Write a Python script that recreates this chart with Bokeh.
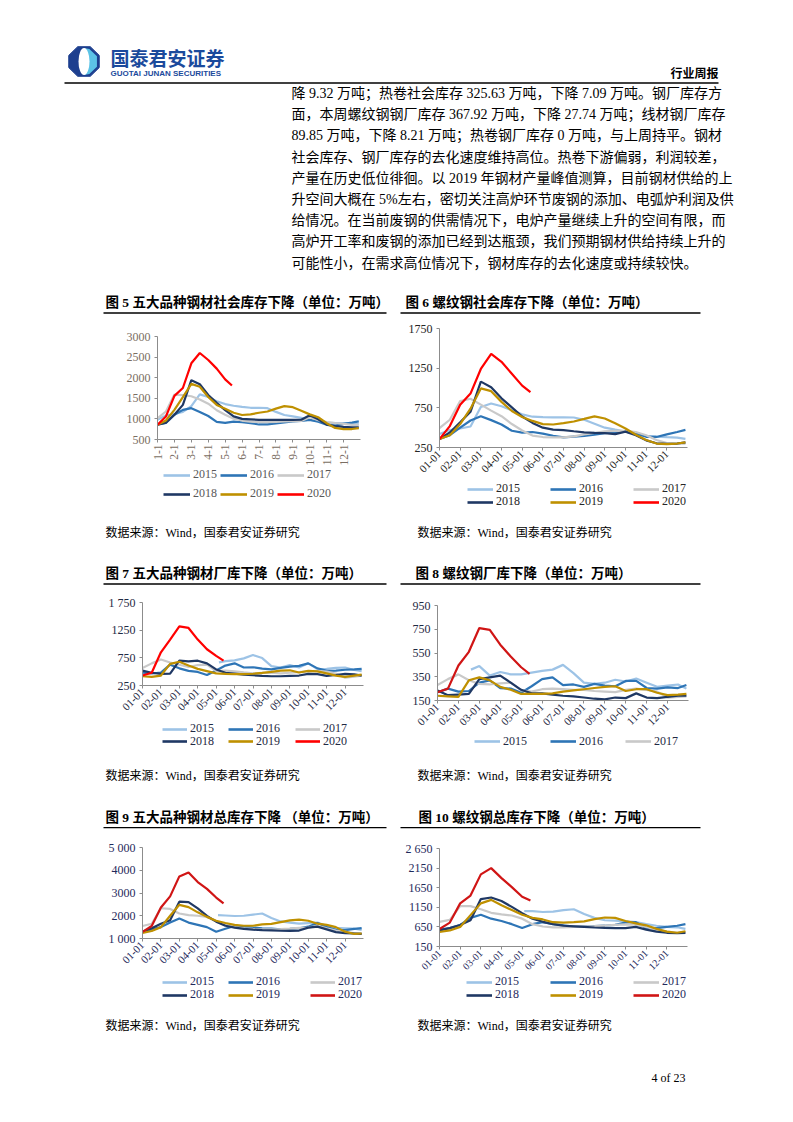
import math
from bokeh.plotting import figure
from bokeh.models import Range1d, FixedTicker, Legend, LegendItem
from bokeh.layouts import column, row
from bokeh.core.properties import value
from bokeh.embed import file_html
from bokeh.resources import INLINE

PAGE_W = 793
SERIF = "'Liberation Serif', 'Noto Sans CJK SC'"
SANS = "'Liberation Sans', 'Noto Sans CJK SC'"
CJK = "'Noto Sans CJK SC'"

# ---------------- data ----------------
YEARS = ["2015", "2016", "2017", "2018", "2019", "2020"]
COL_2015 = "#9DC3E6"
COL_2016 = "#2E75B6"
COL_2017 = "#C9C9C9"
COL_2018 = "#1F3864"
COL_2019 = "#BF9000"
COL_2020 = "#FF0000"
COL_2020_DARK = "#D01515"

# x positions are months since 1 January (semi-monthly readings)
XG = [0, 0.5, 1, 1.5, 2, 2.5, 3, 3.5, 4, 4.5, 5, 5.5, 6, 6.5, 7, 7.5, 8, 8.5, 9, 9.5, 10, 10.5, 11, 11.5, 11.9]
X20 = [0, 0.5, 1, 1.5, 2, 2.5, 3, 3.5, 4, 4.4]

LABELS_SHORT = ["1-1", "2-1", "3-1", "4-1", "5-1", "6-1", "7-1", "8-1", "9-1", "10-1", "11-1", "12-1"]
LABELS_LONG = ["01-01", "02-01", "03-01", "04-01", "05-01", "06-01", "07-01", "08-01", "09-01", "10-01", "11-01", "12-01"]

# Fig 5 five-variety social inventory
C5_2015 = [980, 1080, 1120, 1170, 1310, 1595, 1530, 1430, 1360, 1320, 1290, 1270, 1270, 1260, 1170, 1095, 1060, 1025, 980, 945, 910, 897, 897, 897, 870]
C5_2016 = [857, 900, 1100, 1220, 1260, 1170, 1070, 930, 905, 935, 918, 897, 865, 868, 893, 915, 940, 950, 975, 930, 857, 840, 880, 910, 940]
C5_2017 = [1015, 1180, 1590, 1575, 1550, 1470, 1370, 1210, 1100, 1005, 960, 935, 920, 920, 925, 937, 945, 952, 1040, 970, 925, 900, 880, 857, 857]
C5_2018 = [857, 910, 1100, 1340, 1940, 1840, 1580, 1390, 1215, 1060, 1000, 990, 975, 975, 975, 975, 975, 980, 1090, 990, 860, 825, 805, 795, 795]
C5_2019 = [857, 960, 1220, 1530, 1850, 1780, 1530, 1340, 1245, 1150, 1095, 1110, 1150, 1180, 1250, 1310, 1285, 1200, 1110, 1040, 895, 780, 754, 754, 778]
C5_2020 = [857, 1060, 1560, 1750, 2350, 2600, 2430, 2220, 1960, 1810]
C5_YTICKS = [500, 1000, 1500, 2000, 2500, 3000]
C5_YLABELS = ["500", "1000", "1500", "2000", "2500", "3000"]

# Fig 6 rebar social inventory
C6_2015 = [419, 470, 490, 515, 760, 805, 770, 720, 668, 638, 632, 630, 630, 628, 600, 550, 500, 475, 452, 425, 398, 386, 380, 375, 358]
C6_2016 = [356, 405, 500, 590, 645, 595, 540, 461, 438, 445, 425, 398, 378, 388, 397, 413, 430, 443, 449, 425, 385, 383, 415, 445, 472]
C6_2017 = [495, 600, 835, 865, 790, 715, 645, 546, 465, 400, 382, 377, 377, 390, 415, 435, 453, 460, 461, 445, 405, 345, 305, 300, 300]
C6_2018 = [356, 440, 567, 700, 1080, 1010, 870, 755, 640, 560, 500, 476, 470, 455, 441, 434, 430, 418, 450, 405, 340, 303, 295, 300, 315]
C6_2019 = [356, 405, 546, 740, 995, 960, 825, 710, 635, 585, 545, 540, 558, 578, 610, 643, 615, 555, 490, 410, 345, 300, 292, 300, 315]
C6_2020 = [356, 520, 790, 930, 1240, 1430, 1330, 1180, 1030, 947]
C6_YTICKS = [250, 750, 1250, 1750]
C6_YLABELS = ["250", "750", "1250", "1750"]

# Fig 7 five-variety mill inventory
C7_X15 = [4.15, 4.5, 5, 5.5, 6, 6.5, 7, 7.5, 8, 8.5, 9, 9.5, 10, 10.5, 11, 11.5, 11.9]
C7_2015 = [668, 690, 705, 740, 800, 746, 600, 575, 620, 575, 650, 545, 550, 567, 575, 530, 510]
C7_2016 = [480, 467, 485, 626, 560, 515, 495, 440, 520, 610, 650, 575, 580, 555, 540, 567, 590, 605, 650, 560, 515, 520, 535, 540, 550]
C7_2017 = [567, 650, 720, 665, 625, 585, 620, 626, 510, 520, 505, 487, 470, 478, 480, 470, 480, 492, 507, 515, 500, 465, 390, 410, 428]
C7_2018 = [520, 480, 460, 465, 700, 686, 698, 650, 540, 480, 465, 445, 435, 425, 417, 417, 425, 430, 460, 455, 425, 440, 460, 450, 430]
C7_2019 = [417, 405, 430, 640, 680, 610, 550, 510, 470, 460, 455, 455, 462, 478, 495, 520, 525, 485, 515, 505, 470, 429, 407, 430, 447]
C7_2020 = [430, 480, 850, 1080, 1320, 1290, 1080, 905, 785, 700]
C7_YTICKS = [250, 750, 1250, 1750]
C7_YLABELS = ["250", "750", "1250", "1 750"]

# Fig 8 rebar mill inventory
C8_X15 = [1.6, 2, 2.5, 3, 3.5, 4, 4.5, 5, 5.5, 6, 6.5, 7, 7.5, 8, 8.5, 9, 9.5, 10, 10.5, 11, 11.5, 11.9]
C8_2015 = [410, 440, 360, 390, 370, 370, 385, 400, 410, 450, 380, 300, 290, 300, 325, 310, 335, 300, 265, 275, 285, 250]
C8_2016 = [220, 250, 225, 230, 300, 320, 255, 250, 215, 270, 330, 345, 280, 285, 265, 290, 275, 270, 315, 315, 255, 250, 260, 255, 280]
C8_2017 = [280, 330, 370, 320, 290, 285, 295, 300, 235, 225, 245, 250, 245, 240, 240, 230, 225, 220, 240, 250, 240, 225, 175, 180, 185]
C8_2018 = [235, 195, 200, 205, 330, 345, 360, 300, 240, 210, 210, 200, 190, 185, 175, 165, 160, 175, 170, 210, 175, 170, 180, 190, 190]
C8_2019 = [190, 185, 180, 320, 345, 320, 265, 240, 205, 205, 205, 210, 225, 235, 245, 255, 265, 270, 230, 245, 245, 215, 195, 200, 205]
C8_2020 = [220, 250, 445, 560, 760, 745, 620, 520, 430, 375]
C8_YTICKS = [150, 350, 550, 750, 950]
C8_YLABELS = ["150", "350", "550", "750", "950"]

# Fig 9 five-variety total inventory
C9_X15 = [4.1, 4.5, 5, 5.5, 6, 6.5, 7, 7.5, 8, 8.5, 9, 9.5, 10, 10.5, 11, 11.5, 11.9]
C9_2015 = [2025, 2010, 1990, 2000, 2050, 2100, 1900, 1750, 1700, 1650, 1680, 1700, 1550, 1470, 1450, 1430, 1380]
C9_2016 = [1300, 1400, 1500, 1700, 1880, 1700, 1600, 1500, 1300, 1430, 1550, 1520, 1480, 1450, 1430, 1400, 1420, 1450, 1520, 1680, 1500, 1380, 1370, 1420, 1460]
C9_2017 = [1550, 1650, 2330, 2300, 2100, 2030, 2000, 1950, 1760, 1600, 1500, 1450, 1420, 1400, 1400, 1410, 1430, 1470, 1480, 1560, 1450, 1350, 1300, 1230, 1200]
C9_2018 = [1300, 1450, 1650, 1800, 2620, 2600, 2320, 1990, 1740, 1560, 1480, 1420, 1390, 1370, 1355, 1340, 1337, 1350, 1480, 1520, 1400, 1280, 1240, 1220, 1200]
C9_2019 = [1250, 1330, 1500, 2000, 2480, 2380, 2150, 1950, 1780, 1680, 1600, 1560, 1560, 1620, 1640, 1720, 1800, 1830, 1780, 1650, 1600, 1500, 1300, 1200, 1220]
C9_2020 = [1290, 1550, 2360, 2850, 3730, 3900, 3480, 3180, 2800, 2540]
C9_YTICKS = [1000, 2000, 3000, 4000, 5000]
C9_YLABELS = ["1 000", "2000", "3000", "4000", "5 000"]

# Fig 10 rebar total inventory
C10_X15 = [4.1, 4.5, 5, 5.5, 6, 6.5, 7, 7.5, 8, 8.5, 9, 9.5, 10, 10.5, 11, 11.5, 11.9]
C10_2015 = [1050, 1050, 1030, 1040, 1080, 1100, 980, 880, 820, 810, 790, 770, 720, 680, 650, 640, 600]
C10_2016 = [580, 620, 700, 880, 960, 860, 800, 720, 620, 720, 770, 720, 690, 660, 660, 670, 680, 700, 760, 770, 620, 620, 650, 680, 720]
C10_2017 = [780, 830, 1180, 1180, 1100, 1010, 970, 940, 860, 720, 660, 640, 640, 650, 660, 670, 685, 700, 715, 710, 650, 580, 530, 500, 510]
C10_2018 = [560, 620, 700, 820, 1360, 1400, 1310, 1160, 1000, 860, 780, 720, 680, 665, 650, 635, 625, 620, 620, 650, 580, 530, 500, 490, 500]
C10_2019 = [520, 560, 650, 950, 1250, 1340, 1200, 1080, 960, 880, 840, 770, 760, 770, 790, 850, 890, 880, 800, 740, 690, 600, 530, 500, 540]
C10_2020 = [595, 760, 1250, 1450, 1990, 2150, 1895, 1665, 1420, 1323]
C10_YTICKS = [150, 650, 1150, 1650, 2150, 2650]
C10_YLABELS = ["150", "650", "1150", "1650", "2150", "2 650"]

TITLES = [
    "图 5 五大品种钢材社会库存下降（单位：万吨）",
    "图 6 螺纹钢社会库存下降（单位：万吨）",
    "图 7 五大品种钢材厂库下降（单位：万吨）",
    "图 8 螺纹钢厂库下降（单位：万吨）",
    "图 9 五大品种钢材总库存下降 （单位：万吨）",
    "图 10 螺纹钢总库存下降（单位：万吨）",
]
SOURCE = "数据来源：Wind，国泰君安证券研究"
PARAGRAPH = [
    "降 9.32 万吨；热卷社会库存 325.63 万吨，下降 7.09 万吨。钢厂库存方",
    "面，本周螺纹钢钢厂库存 367.92 万吨，下降 27.74 万吨；线材钢厂库存",
    "89.85 万吨，下降 8.21 万吨；热卷钢厂库存 0 万吨，与上周持平。钢材",
    "社会库存、钢厂库存的去化速度维持高位。热卷下游偏弱，利润较差，",
    "产量在历史低位徘徊。以 2019 年钢材产量峰值测算，目前钢材供给的上",
    "升空间大概在 5%左右，密切关注高炉环节废钢的添加、电弧炉利润及供",
    "给情况。在当前废钢的供需情况下，电炉产量继续上升的空间有限，而",
    "高炉开工率和废钢的添加已经到达瓶颈，我们预期钢材供给持续上升的",
    "可能性小，在需求高位情况下，钢材库存的去化速度或持续较快。",
]


# ---------------- helpers ----------------
def blank(w, h, xr=None, yr=None):
    p = figure(width=w, height=h, x_range=xr or Range1d(0, w), y_range=yr or Range1d(h, 0),
               output_backend="svg", toolbar_location=None, title=None,
               x_axis_location=None, y_axis_location=None, min_border=0)
    p.outline_line_color = None
    p.grid.visible = False
    return p


def put_text(p, xs, ys, labels, size, font=SERIF, bold=False, color="#000000", align="left"):
    p.text(x=xs, y=ys, text=labels, text_font=value(font), text_font_size=size,
           text_font_style="bold" if bold else "normal", text_color=color,
           text_align=align, text_baseline="middle")


def title_pair(p, y, left_title, right_title, left_x, right_x):
    put_text(p, [left_x, right_x], [y, y], [left_title, right_title], "13.5px", bold=True)
    p.segment(x0=[103, 400], y0=[y + 10.5, y + 10.5], x1=[386, 700], y1=[y + 10.5, y + 10.5],
              line_color="#000000", line_width=1.3)


def chart(fw, fh, frame, yticks, ylabels, xlabels, orient, xfont, series, tick_color):
    fl, fr, ft, fb = frame
    p = figure(width=fw, height=fh, x_range=Range1d(0, 12), y_range=Range1d(yticks[0], yticks[-1]),
               output_backend="svg", toolbar_location=None, title=None,
               min_border_left=fl, min_border_right=fw - fr, min_border_top=ft,
               min_border_bottom=fh - fb)
    p.grid.visible = False
    p.outline_line_color = None
    p.xaxis.ticker = FixedTicker(ticks=list(range(12)))
    p.xaxis.major_label_overrides = {i: lab for i, lab in enumerate(xlabels)}
    p.xaxis.major_label_orientation = orient
    p.yaxis.ticker = FixedTicker(ticks=yticks)
    p.yaxis.major_label_overrides = {t: lab for t, lab in zip(yticks, ylabels)}
    for ax in (p.xaxis, p.yaxis):
        ax.minor_tick_line_color = None
        ax.major_tick_in = 0
        ax.major_tick_out = 3
        ax.axis_line_color = "#8C8C8C"
        ax.major_tick_line_color = "#8C8C8C"
        ax.major_label_text_font = SERIF
        ax.major_label_text_color = tick_color
    p.yaxis.major_label_standoff = 4
    p.xaxis.major_label_standoff = 2
    p.yaxis.major_label_text_font_size = "12px"
    p.xaxis.major_label_text_font_size = xfont
    for xs, ys, col in series:
        p.line(x=xs, y=ys, line_color=col, line_width=2.2)
    return p


def legend_box(fw, fh, frame, colors, cols_x, rows_y, gw, text_color):
    # the legend strip shares the chart's frame columns (Bokeh aligns them in a column)
    fl, fr = frame[0], frame[1]
    p = figure(width=fw, height=fh, x_range=Range1d(0, 1), y_range=Range1d(0, 1),
               output_backend="svg", toolbar_location=None, title=None,
               x_axis_location=None, y_axis_location=None,
               min_border_left=fl, min_border_right=fw - fr, min_border_top=0, min_border_bottom=0)
    p.outline_line_color = None
    p.grid.visible = False
    H = 12
    for k, col in enumerate(colors):
        r, c = divmod(k, 3)
        swatch = p.line(x=[-5], y=[-5], line_color=col, line_width=2.6)
        lg = Legend(items=[LegendItem(label=value(YEARS[k]), renderers=[swatch])],
                    location=(cols_x[c] - fl, fh - rows_y[r] - H / 2.0),
                    orientation="horizontal", padding=0, margin=0, spacing=0,
                    glyph_width=gw, glyph_height=H, label_height=H, label_width=24,
                    label_standoff=3, border_line_color=None, background_fill_alpha=0,
                    label_text_font=SERIF, label_text_font_size="12px",
                    label_text_color=text_color, label_text_baseline="middle")
        p.add_layout(lg)
    return p


def series_set(x15, s15, s16, s17, s18, s19, s20, red):
    return [(x15, s15, COL_2015), (XG, s16, COL_2016), (XG, s17, COL_2017),
            (XG, s18, COL_2018), (XG, s19, COL_2019), (X20, s20, red)]


ALL6 = [COL_2015, COL_2016, COL_2017, COL_2018, COL_2019, COL_2020]
ALL6_DARK = [COL_2015, COL_2016, COL_2017, COL_2018, COL_2019, COL_2020_DARK]

# ---------------- header strip (page y 0..318) ----------------
s1 = blank(PAGE_W, 318)
cx, cy, rx, ry = 83.5, 61.0, 16.5, 16.0
ang = [math.pi / 8 + k * math.pi / 4 for k in range(8)]
s1.patch([cx + rx * math.cos(a) for a in ang], [cy + ry * math.sin(a) for a in ang],
         fill_color="#1D3F8F", line_color="#1D3F8F")
half = [-math.pi / 2 + 0.01] + sorted([a for a in ang if math.cos(a) > 0], key=math.sin) + [math.pi / 2 - 0.01]
s1.patch([cx] + [cx + (rx - 2.5) * math.cos(a) for a in half] + [cx],
         [cy - ry + 2.5] + [cy + (ry - 2.5) * math.sin(a) for a in half] + [cy + ry - 2.5],
         fill_color="#5CC3E6", line_color=None)
s1.ellipse(x=[cx], y=[cy], width=11, height=27, fill_color="#FFFFFF", line_color=None)
put_text(s1, [110], [56.5], ["国泰君安证券"], "19px", font=CJK, bold=True, color="#1B4A9C")
put_text(s1, [110], [72.5], ["GUOTAI JUNAN SECURITIES"], "8px", font=SANS, bold=True, color="#1B4A9C")
put_text(s1, [718], [72], ["行业周报"], "12px", font=CJK, bold=True, align="right")
s1.segment(x0=[64], y0=[82.5], x1=[718], y1=[82.5], line_color="#000000", line_width=1.5)
put_text(s1, [291] * len(PARAGRAPH), [93 + 21.2 * i for i in range(len(PARAGRAPH))], PARAGRAPH, "14px")
title_pair(s1, 302, TITLES[0], TITLES[1], 105, 405)

# ---------------- chart row 1 (page y 318..522) ----------------
F5 = (157, 360, 18, 122)
F6 = (39, 287, 10, 129)
c5 = chart(400, 150, F5, C5_YTICKS, C5_YLABELS, LABELS_SHORT, math.pi / 2, "11.5px",
           series_set(XG, C5_2015, C5_2016, C5_2017, C5_2018, C5_2019, C5_2020, COL_2020), "#7A6E62")
l5 = legend_box(400, 54, F5, ALL6, [163, 220, 277], [8, 27], 27, "#595959")
c6 = chart(393, 163, F6, C6_YTICKS, C6_YLABELS, LABELS_LONG, math.pi / 4, "11px",
           series_set(XG, C6_2015, C6_2016, C6_2017, C6_2018, C6_2019, C6_2020, COL_2020), "#262626")
l6 = legend_box(393, 41, F6, ALL6, [67, 150, 233], [9, 22], 26, "#262626")

s2 = blank(PAGE_W, 68)
put_text(s2, [105, 417], [10, 10], [SOURCE, SOURCE], "12px")
title_pair(s2, 51, TITLES[2], TITLES[3], 105, 415)

# ---------------- chart row 2 (page y 590..765) ----------------
F7 = (142, 363, 12, 95)
F8 = (37, 288, 15, 110)
c7 = chart(400, 130, F7, C7_YTICKS, C7_YLABELS, LABELS_LONG, math.pi / 4, "11px",
           series_set(C7_X15, C7_2015, C7_2016, C7_2017, C7_2018, C7_2019, C7_2020, COL_2020), "#1F2A44")
l7 = legend_box(400, 45, F7, ALL6, [162, 228, 295], [10, 22.5], 25, "#1F2A44")
c8 = chart(393, 144, F8, C8_YTICKS, C8_YLABELS, LABELS_LONG, math.pi / 4, "11px",
           series_set(C8_X15, C8_2015, C8_2016, C8_2017, C8_2018, C8_2019, C8_2020, COL_2020_DARK), "#1F2A44")
l8 = legend_box(393, 31, F8, ALL6_DARK[:3], [74, 150, 225], [8.7], 26, "#1F2A44")

s3 = blank(PAGE_W, 68)
put_text(s3, [105, 417], [10, 10], [SOURCE, SOURCE], "12px")
title_pair(s3, 51.7, TITLES[4], TITLES[5], 105, 418)

# ---------------- chart row 3 (page y 833..1015) ----------------
F9 = (142, 363, 14, 105)
F10 = (39, 287, 15, 113)
c9 = chart(400, 140, F9, C9_YTICKS, C9_YLABELS, LABELS_LONG, math.pi / 4, "11px",
           series_set(C9_X15, C9_2015, C9_2016, C9_2017, C9_2018, C9_2019, C9_2020, COL_2020_DARK), "#1F2A5C")
l9 = legend_box(400, 42, F9, ALL6_DARK, [162, 228, 310], [10.3, 23], 25, "#1F2A5C")
c10 = chart(393, 142, F10, C10_YTICKS, C10_YLABELS, LABELS_LONG, math.pi / 4, "10px",
            series_set(C10_X15, C10_2015, C10_2016, C10_2017, C10_2018, C10_2019, C10_2020, COL_2020_DARK), "#1F2A5C")
l10 = legend_box(393, 40, F10, ALL6_DARK, [66, 150, 233], [8, 21], 26, "#1F2A5C")

s4 = blank(PAGE_W, 95)
put_text(s4, [105, 417], [10, 10], [SOURCE, SOURCE], "12px")
put_text(s4, [651], [62], ["4 of 23"], "12px")

page = column(
    s1,
    row(column(c5, l5), column(c6, l6)),
    s2,
    row(column(c7, l7), column(c8, l8)),
    s3,
    row(column(c9, l9), column(c10, l10)),
    s4,
)

open("out.html", "w").write(file_html(page, INLINE))
